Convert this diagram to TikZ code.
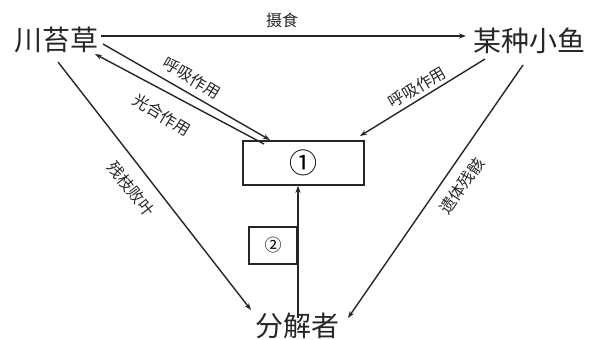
\documentclass[tikz,border=0pt]{standalone}
\usepackage{fontspec}
\setmainfont{Noto Sans CJK SC}
\usetikzlibrary{arrows.meta,calc}
\tikzset{
  big/.style={font=\fontsize{28}{28}\selectfont, inner sep=0pt, text=black!85},
  lab/.style={font=\fontsize{16}{16}\selectfont, inner sep=0pt, text=black!85},
  conn/.style={draw=black!85, line width=1.4pt, -{Stealth[length=7pt,width=5pt]}},
  boxn/.style={draw=black!85, line width=1.4pt, inner sep=0pt}
}
\begin{document}
\begin{tikzpicture}[x=1pt,y=-1pt]
\useasboundingbox (0,0) rectangle (589,340);
% main nodes
\node[big] (cao) at (56,40) {川苔草};
\node[big] (fish) at (529,41) {某种小鱼};
\node[big] (dec) at (297,326) {分解者};
\node[boxn, minimum width=121pt, minimum height=44pt] (b1) at (303.5,163) {\fontsize{28}{28}\selectfont ①};
\node[boxn, minimum width=48pt, minimum height=37pt] (b2) at (273,245.5) {\fontsize{17}{17}\selectfont ②};
% endpoint coordinates
\coordinate (c1) at (101,36);
\coordinate (f1) at (466,36);
\coordinate (cu) at (103,44);
\coordinate (bu) at (270,140);
\coordinate (bl) at (264,144);
\coordinate (cl) at (95,54);
\coordinate (fr) at (485,59);
\coordinate (br) at (360,136);
\coordinate (cd) at (58,62);
\coordinate (dl) at (251,310);
\coordinate (fd) at (523,65);
\coordinate (dr) at (348,318);
\coordinate (dv) at (298,318);
% connectors
\draw[conn] (c1) -- (f1);
\draw[conn] (cu) -- (bu);
\draw[conn] (bl) -- (cl);
\draw[conn] (fr) -- (br);
\draw[conn] (cd) -- (dl);
\draw[conn] (fd) -- (dr);
\draw[conn] (dv) -- (dv |- b1.south);
% labels
\node[lab] (l1) at (282,20) {摄食};
\node[lab, rotate=-31] (l2) at (192,78) {呼吸作用};
\node[lab, rotate=-31] (l3) at (162,115) {光合作用};
\node[lab, rotate=30] (l4) at (417,87) {呼吸作用};
\node[lab, rotate=-52] (l5) at (131,189) {残枝败叶};
\node[lab, rotate=55] (l6) at (462,186) {遗体残骸};
\end{tikzpicture}
\end{document}
